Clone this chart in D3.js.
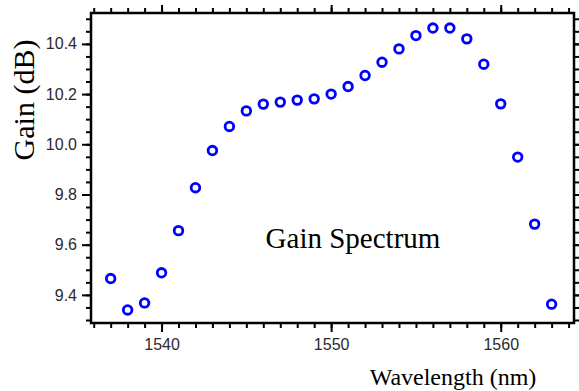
<!DOCTYPE html>
<html>
<head>
    <script src="https://d3js.org/d3.v7.min.js" charset="utf-8"></script>
    <style>
        body { margin: 0; background: white; }
    </style>
</head>
<body>
   <script>
        // measured gain spectrum
        var wavelength = [1537, 1538, 1539, 1540, 1541, 1542, 1543, 1544, 1545, 1546, 1547, 1548, 1549, 1550,
                          1551, 1552, 1553, 1554, 1555, 1556, 1557, 1558, 1559, 1560, 1561, 1562, 1563];
        var gain = [9.465, 9.340, 9.368, 9.488, 9.656, 9.827, 9.975, 10.071, 10.133, 10.160, 10.168, 10.176, 10.181, 10.200,
                    10.230, 10.274, 10.327, 10.380, 10.433, 10.463, 10.463, 10.420, 10.319, 10.161, 9.949, 9.682, 9.363];
        var xTicks = [1540, 1550, 1560];
        var yTicks = [9.4, 9.6, 9.8, 10.0, 10.2, 10.4];

        var W = 579, H = 391;
        var pLeft = 91, pRight = 574, pTop = 13, pBottom = 323;

        var svg = d3.select("body")
            .append("svg")
            .attr("width", W)
            .attr("height", H)
            .style("background", "white");

        var x = d3.scaleLinear().domain([1535.84, 1564.32]).range([pLeft, pRight]);
        var y = d3.scaleLinear().domain([9.288, 10.523]).range([pBottom, pTop]);

        var minorX = d3.range(1536, 1565, 1);
        var minorY = d3.range(9.3, 10.52, 0.05);

        function styleAxis(g) {
            g.select(".domain").remove();
            g.selectAll(".tick line").attr("stroke", "black").attr("stroke-width", 2);
            g.selectAll("text")
                .style("font-family", "Liberation Sans, Arial, sans-serif")
                .style("font-size", "16px")
                .style("fill", "#2a2a2a");
        }

        // minor ticks, all four sides
        svg.append("g").attr("transform", "translate(0," + pBottom + ")")
            .call(d3.axisBottom(x).tickValues(minorX).tickSize(5).tickFormat(""))
            .call(styleAxis);
        svg.append("g").attr("transform", "translate(0," + pTop + ")")
            .call(d3.axisTop(x).tickValues(minorX).tickSize(5).tickFormat(""))
            .call(styleAxis);
        svg.append("g").attr("transform", "translate(" + pLeft + ",0)")
            .call(d3.axisLeft(y).tickValues(minorY).tickSize(5).tickFormat(""))
            .call(styleAxis);
        svg.append("g").attr("transform", "translate(" + pRight + ",0)")
            .call(d3.axisRight(y).tickValues(minorY).tickSize(5).tickFormat(""))
            .call(styleAxis);

        // major ticks
        svg.append("g").attr("transform", "translate(0," + pBottom + ")")
            .call(d3.axisBottom(x).tickValues(xTicks).tickSize(9).tickPadding(7).tickFormat(d3.format("d")))
            .call(styleAxis);
        svg.append("g").attr("transform", "translate(0," + pTop + ")")
            .call(d3.axisTop(x).tickValues(xTicks).tickSize(8).tickFormat(""))
            .call(styleAxis);
        svg.append("g").attr("transform", "translate(" + pLeft + ",0)")
            .call(d3.axisLeft(y).tickValues(yTicks).tickSize(9).tickPadding(5).tickFormat(d3.format(".1f")))
            .call(styleAxis);
        svg.append("g").attr("transform", "translate(" + pRight + ",0)")
            .call(d3.axisRight(y).tickValues(yTicks).tickSize(8).tickFormat(""))
            .call(styleAxis);

        // frame
        svg.append("rect")
            .attr("x", pLeft).attr("y", pTop)
            .attr("width", pRight - pLeft).attr("height", pBottom - pTop)
            .style("fill", "none")
            .style("stroke", "black")
            .style("stroke-width", 2.5);

        // points
        svg.append("g")
            .selectAll("circle")
            .data(wavelength)
            .enter()
            .append("circle")
            .attr("cx", function (d) { return x(d); })
            .attr("cy", function (d, i) { return y(gain[i]); })
            .attr("r", 4.3)
            .style("fill", "none")
            .style("stroke", "#0000ff")
            .style("stroke-width", 2.8);

        // labels
        svg.append("text")
            .attr("transform", "translate(34,100) rotate(-90)")
            .attr("text-anchor", "middle")
            .style("font-family", "Liberation Serif, Times New Roman, serif")
            .style("font-size", "30px")
            .text("Gain (dB)");

        svg.append("text")
            .attr("x", 353).attr("y", 248)
            .attr("text-anchor", "middle")
            .style("font-family", "Liberation Serif, Times New Roman, serif")
            .style("font-size", "29px")
            .text("Gain Spectrum");

        svg.append("text")
            .attr("x", 453).attr("y", 385)
            .attr("text-anchor", "middle")
            .style("font-family", "Liberation Serif, Times New Roman, serif")
            .style("font-size", "24px")
            .text("Wavelength (nm)");
    </script>
</body>
</html>
